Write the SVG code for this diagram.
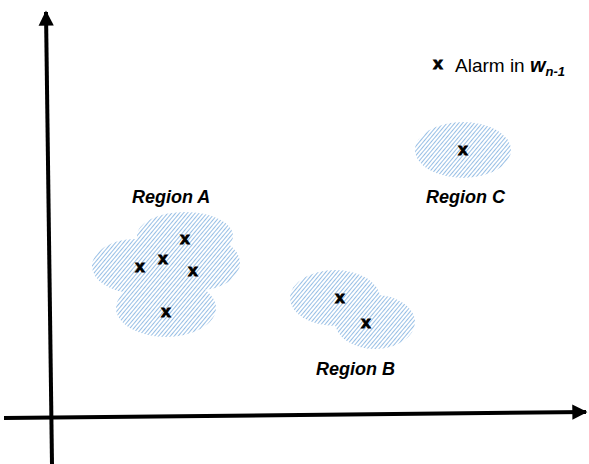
<svg xmlns="http://www.w3.org/2000/svg" width="589" height="464" viewBox="0 0 589 464">
<style>
.hatch{fill:url(#hatch);stroke:none}
.mark{font-family:"Liberation Sans",Arial,sans-serif;font-weight:bold;font-size:17px;fill:#000;stroke:#000;stroke-width:1;text-anchor:middle}
.lbl{font-family:"Liberation Sans",Arial,sans-serif;font-weight:bold;font-style:italic;font-size:18px;fill:#000}
.axis{stroke:#000;stroke-width:4;fill:none}
</style>
<defs>
<pattern id="hatch" patternUnits="userSpaceOnUse" width="3" height="3" patternTransform="rotate(-50)">
<rect width="3" height="3" fill="#ffffff"/>
<line x1="0" y1="1.5" x2="3" y2="1.5" stroke="#8cb8e2" stroke-width="0.9"/>
</pattern>
<marker id="arrow" viewBox="0 0 10 10" refX="9" refY="5" markerWidth="3.8" markerHeight="4" orient="auto" markerUnits="strokeWidth">
<path d="M0,0 L10,5 L0,10 Z" fill="#000"/>
</marker>
</defs>
<rect width="589" height="464" fill="#fff"/>
<g id="connectors">
<line class="axis" x1="52" y1="464" x2="46" y2="12" marker-end="url(#arrow)"/>
<line class="axis" x1="4" y1="418" x2="586" y2="412" marker-end="url(#arrow)"/>
</g>
<g id="region-a">
<ellipse class="hatch" cx="185" cy="236" rx="48" ry="24"/>
<ellipse class="hatch" cx="135" cy="266" rx="43" ry="27"/>
<ellipse class="hatch" cx="200" cy="263" rx="40" ry="27"/>
<ellipse class="hatch" cx="166" cy="308" rx="50" ry="29"/>
<text class="lbl" x="132" y="203">Region A</text>
<text class="mark" x="185" y="244">x</text>
<text class="mark" x="140" y="272">x</text>
<text class="mark" x="163" y="264">x</text>
<text class="mark" x="193" y="276">x</text>
<text class="mark" x="166" y="317">x</text>
</g>
<g id="region-b">
<ellipse class="hatch" cx="335" cy="298" rx="45" ry="28"/>
<ellipse class="hatch" cx="375" cy="322" rx="40" ry="27"/>
<text class="lbl" x="316" y="375">Region B</text>
<text class="mark" x="340" y="303">x</text>
<text class="mark" x="366" y="328">x</text>
</g>
<g id="region-c">
<ellipse class="hatch" cx="463" cy="150" rx="48" ry="28"/>
<text class="lbl" x="426" y="203">Region C</text>
<text class="mark" x="463" y="155">x</text>
</g>
<g id="legend">
<text class="mark" x="438" y="69">x</text>
<text x="455" y="72" font-family="Liberation Sans,Arial,sans-serif" font-size="19" fill="#000">Alarm in <tspan font-weight="bold" font-style="italic" font-size="20">w</tspan><tspan font-weight="bold" font-style="italic" font-size="13" dy="4">n-1</tspan></text>
</g>
</svg>
